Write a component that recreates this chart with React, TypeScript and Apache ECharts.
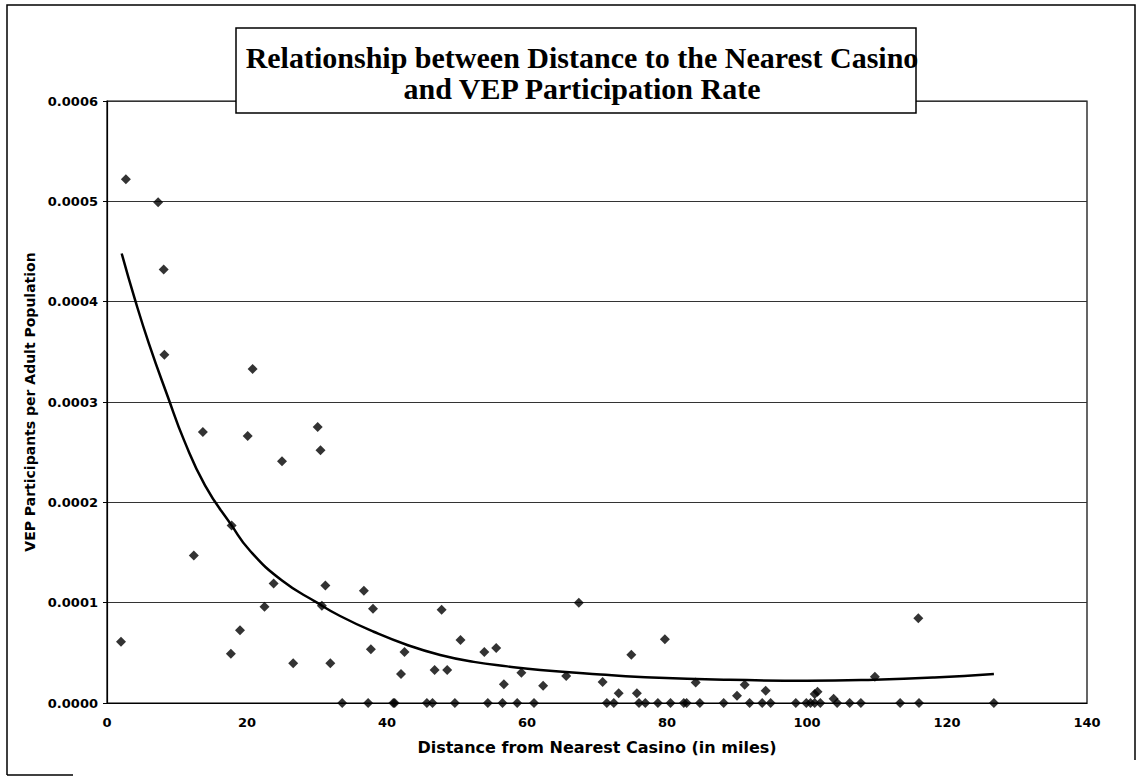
import React, { useEffect, useRef } from "react";
import * as echarts from "echarts";

const titleLines = [
  "Relationship between Distance to the Nearest Casino",
  "and VEP Participation Rate",
];
const xAxisName = "Distance from Nearest Casino (in miles)";
const yAxisName = "VEP Participants per Adult Population";

// Observed counties: distance (miles) and VEP participation rate
const distance = [
  2.7, 7.3, 8.1, 8.2, 20.8, 13.7, 20.1, 30.1, 30.5, 25.0, 17.8, 12.4, 23.8, 31.2,
  22.5, 30.7, 19.0, 2.0, 17.7, 26.6, 31.9, 36.7, 38.0, 47.8, 67.4, 50.5, 37.7,
  42.5, 53.9, 55.6, 42.0, 46.8, 48.6, 59.2, 56.7, 62.3, 65.6, 70.8, 74.9, 79.7,
  73.1, 75.7, 84.1, 90.0, 91.1, 94.1, 101.5, 101.1, 103.8, 109.7, 115.9,
  33.6, 37.3, 40.9, 41.1, 45.7, 46.5, 49.7, 54.4, 56.5, 58.6, 61.0, 71.4, 72.4,
  76.0, 76.9, 78.7, 80.5, 82.4, 82.8, 84.7, 88.1, 91.8, 93.6, 94.8, 98.4, 99.9,
  100.5, 101.1, 101.9, 104.3, 106.1, 107.7, 113.3, 116.0, 126.7,
];
const rate = [
  0.000522, 0.000499, 0.000432, 0.000347, 0.000333, 0.00027, 0.000266, 0.000275,
  0.000252, 0.000241, 0.000177, 0.000147, 0.000119, 0.000117, 0.000096, 0.000097,
  0.0000725, 0.0000611, 0.0000492, 0.0000396, 0.0000396, 0.000112, 0.000094,
  0.000093, 0.0001, 0.0000628, 0.0000535, 0.0000508, 0.0000508, 0.0000548,
  0.0000289, 0.0000329, 0.0000329, 0.0000302, 0.0000186, 0.0000173, 0.0000269,
  0.0000209, 0.0000482, 0.0000635, 0.0000097, 0.0000097, 0.0000205, 0.0000073,
  0.0000182, 0.0000123, 0.0000113, 0.000009, 0.0000043, 0.0000262, 0.0000844,
  0, 0, 0, 0, 0, 0, 0, 0, 0, 0, 0, 0, 0, 0, 0, 0, 0, 0, 0, 0, 0, 0, 0, 0, 0, 0,
  0, 0, 0, 0, 0, 0, 0, 0, 0,
];

// Trend line
const trendX = [
  2.1, 4.0, 6.0, 8.7, 11.0, 14.0, 17.8, 20.4, 25.0, 30.0, 33.3, 38.1, 42.9, 47.6,
  52.4, 57.2, 61.9, 70.5, 76.2, 88.1, 100, 109.6, 118.2, 126.7,
];
const trendY = [
  0.000448, 0.000402, 0.000358, 0.000305, 0.000262, 0.000217, 0.000177, 0.000152,
  0.000122, 0.0001, 0.0000867, 0.000071, 0.0000578, 0.0000479, 0.000041,
  0.0000365, 0.0000329, 0.0000284, 0.000026, 0.0000232, 0.0000222, 0.0000232,
  0.0000254, 0.0000289,
];

const xTicks = { min: 0, max: 140, interval: 20 };
const yTicks = { min: 0, max: 0.0006, interval: 0.0001 };

export default function App() {
  const ref = useRef<HTMLDivElement>(null);
  useEffect(() => {
    document.body.style.margin = "0";
    const chart = echarts.init(ref.current!, null, { renderer: "svg" });
    const points = distance.map((d, i) => [d, rate[i]]);
    const trend = trendX.map((d, i) => [d, trendY[i]]);
    chart.setOption({
      animation: false,
      backgroundColor: "#fff",
      title: {
        text: titleLines.join("\n"),
        left: 577,
        textAlign: "center",
        top: 37,
        z: 20,
        textStyle: {
          fontFamily: "Liberation Serif",
          fontWeight: "bold",
          fontSize: 30,
          lineHeight: 31,
          color: "#000",
        },
      },
      graphic: [
        {
          type: "polyline",
          z: 1,
          shape: { points: [[7, 775], [7, 5], [1135, 5], [1135, 760]] },
          style: { stroke: "#000", lineWidth: 1.5, fill: null },
        },
        {
          type: "line",
          z: 1,
          shape: { x1: 7, y1: 775, x2: 73, y2: 775 },
          style: { stroke: "#000", lineWidth: 1.5 },
        },
        {
          type: "rect",
          z: 10,
          shape: { x: 236, y: 28, width: 680, height: 85 },
          style: { fill: "#fff", stroke: "#000", lineWidth: 1.5 },
        },
      ],
      grid: {
        left: 107,
        right: 50,
        top: 101,
        bottom: 74,
        show: true,
        borderColor: "#000",
        borderWidth: 1.2,
      },
      xAxis: {
        type: "value",
        ...xTicks,
        name: xAxisName,
        nameLocation: "middle",
        nameGap: 36,
        nameTextStyle: {
          fontFamily: "DejaVu Sans",
          fontWeight: "bold",
          fontSize: 16,
          color: "#000",
        },
        axisLine: { show: true, onZero: false, lineStyle: { color: "#000", width: 1.2 } },
        axisTick: { show: false },
        splitLine: { show: false },
        axisLabel: {
          fontFamily: "DejaVu Sans",
          fontWeight: "bold",
          fontSize: 13,
          color: "#000",
          margin: 13,
        },
      },
      yAxis: {
        type: "value",
        ...yTicks,
        name: yAxisName,
        nameLocation: "middle",
        nameGap: 65,
        nameTextStyle: {
          fontFamily: "DejaVu Sans",
          fontWeight: "bold",
          fontSize: 14,
          color: "#000",
        },
        axisLine: { show: true, lineStyle: { color: "#000", width: 1.2 } },
        axisTick: { show: true, inside: false, length: 4, lineStyle: { color: "#000" } },
        splitLine: { show: true, lineStyle: { color: "#333", width: 1 } },
        axisLabel: {
          fontFamily: "DejaVu Sans",
          fontWeight: "bold",
          fontSize: 13,
          color: "#000",
          margin: 9,
          formatter: (v: number) => v.toFixed(4),
        },
      },
      series: [
        {
          type: "line",
          data: trend,
          smooth: 0.5,
          showSymbol: false,
          symbol: "none",
          lineStyle: { color: "#000", width: 2.5 },
          z: 3,
        },
        {
          type: "scatter",
          data: points,
          symbol: "diamond",
          symbolSize: 10,
          itemStyle: { color: "#000" },
          z: 4,
        },
      ],
    });
    return () => chart.dispose();
  }, []);
  return (
    <div
      ref={ref}
      style={{ position: "absolute", left: 0, top: 0, width: 1137, height: 777 }}
    />
  );
}
